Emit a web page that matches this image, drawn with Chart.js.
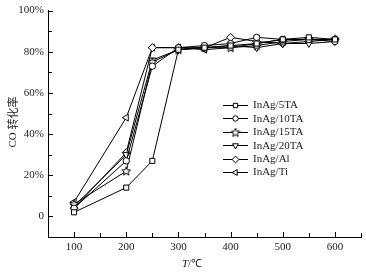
<!DOCTYPE html>
<html>
<head>
<meta charset="utf-8">
<script src="https://cdn.jsdelivr.net/npm/chart.js@4/dist/chart.umd.min.js"></script>
<style>
  html, body { margin: 0; padding: 0; background: #fff; }
  #wrap { width: 366px; height: 273px; }
</style>
</head>
<body>
<div id="wrap"><canvas id="grafico" width="366" height="273"></canvas></div>
<script>
// temperatura (°C)
const temps = [100, 200, 250, 300, 350, 400, 450, 500, 550, 600];

// conversão de CO (%)
const ta5  = [2, 14, 27, 81, 82, 83, 84, 86, 87, 86];
const ta10 = [4, 27, 73, 82, 83, 84, 87, 86, 86, 85];
const ta15 = [6, 22, 75, 81, 82, 82, 83, 85, 86, 86];
const ta20 = [5, 30, 76, 81, 82, 83, 82, 84, 84, 85];
const al   = [4, 31, 82, 82, 82, 87, 85, 84, 85, 86];
const ti   = [7, 48, 82, 82, 81, 82, 84, 86, 86, 86];

const nomes = ['InAg/5TA', 'InAg/10TA', 'InAg/15TA', 'InAg/20TA', 'InAg/Al', 'InAg/Ti'];

const yTicks = [0, 20, 40, 60, 80, 100];
const xTicks = [100, 200, 300, 400, 500, 600];

const serif = '"Liberation Serif", "Times New Roman", serif';

// estrela de 5 pontas para InAg/15TA
function criaEstrela() {
  const c = document.createElement('canvas');
  c.width = 10; c.height = 10;
  const g = c.getContext('2d');
  g.beginPath();
  for (let i = 0; i < 10; i++) {
    const r = i % 2 === 0 ? 4.5 : 2;
    const a = -Math.PI / 2 + i * Math.PI / 5;
    const px = 5 + r * Math.cos(a), py = 5.3 + r * Math.sin(a);
    if (i === 0) g.moveTo(px, py); else g.lineTo(px, py);
  }
  g.closePath();
  g.fillStyle = '#fff';
  g.fill();
  g.strokeStyle = '#000';
  g.lineWidth = 1;
  g.stroke();
  return c;
}
const estrela = criaEstrela();

function serie(vals) {
  return vals.map((v, i) => ({ x: temps[i], y: v }));
}

const estilos = [
  { pointStyle: 'rect', rotation: 0, radius: 3.6 },
  { pointStyle: 'circle', rotation: 0, radius: 3.2 },
  { pointStyle: estrela, rotation: 0, radius: 4 },
  { pointStyle: 'triangle', rotation: 180, radius: 4 },
  { pointStyle: 'rectRot', rotation: 0, radius: 4 },
  { pointStyle: 'triangle', rotation: -90, radius: 4 }
];

const valores = [ta5, ta10, ta15, ta20, al, ti];

const datasets = valores.map((vals, k) => ({
  label: nomes[k],
  data: serie(vals),
  borderColor: '#000',
  backgroundColor: '#fff',
  borderWidth: 1,
  pointStyle: estilos[k].pointStyle,
  pointRotation: estilos[k].rotation,
  pointRadius: estilos[k].radius,
  pointBorderWidth: 1,
  pointBorderColor: '#000',
  pointBackgroundColor: '#fff',
  tension: 0
}));

// ticks para dentro, títulos e legenda
const decoracao = {
  id: 'decoracao',
  afterDraw(chart) {
    const ctx = chart.ctx;
    const xs = chart.scales.x, ys = chart.scales.y;
    const a = chart.chartArea;
    ctx.save();
    ctx.strokeStyle = '#000';
    ctx.lineWidth = 1;
    ctx.beginPath();
    for (let v = -10; v <= 100; v += 10) {
      const py = Math.round(ys.getPixelForValue(v)) + 0.5;
      const len = v % 20 === 0 ? 5 : 4;
      ctx.moveTo(a.left, py); ctx.lineTo(a.left + len, py);
    }
    for (let v = 50; v <= 650; v += 50) {
      const px = Math.round(xs.getPixelForValue(v)) + 0.5;
      const len = v % 100 === 0 ? 5 : 4;
      ctx.moveTo(px, a.bottom); ctx.lineTo(px, a.bottom - len);
    }
    ctx.stroke();

    // título do eixo y
    ctx.fillStyle = '#222';
    ctx.translate(13, 122);
    ctx.rotate(-Math.PI / 2);
    ctx.textAlign = 'center';
    ctx.textBaseline = 'middle';
    ctx.font = '11px ' + serif;
    const t1 = 'CO ';
    ctx.font = '11px "Noto Sans CJK SC"';
    const w2 = ctx.measureText('转化率').width;
    ctx.font = '11px ' + serif;
    const w1 = ctx.measureText(t1).width;
    const x0 = -(w1 + w2) / 2;
    ctx.textAlign = 'left';
    ctx.fillText(t1, x0, 0);
    ctx.font = '11px "Noto Sans CJK SC"';
    ctx.fillText('转化率', x0 + w1, 0);
    ctx.setTransform(1, 0, 0, 1, 0, 0);

    // título do eixo x
    ctx.textBaseline = 'middle';
    ctx.textAlign = 'left';
    ctx.font = 'italic 11px ' + serif;
    const wt = ctx.measureText('T').width;
    ctx.font = '11px ' + serif;
    const wr = ctx.measureText('/℃').width;
    const xt = 192 - (wt + wr) / 2;
    ctx.font = 'italic 11px ' + serif;
    ctx.fillText('T', xt, 264);
    ctx.font = '11px ' + serif;
    ctx.fillText('/℃', xt + wt, 264);

    // legenda
    ctx.font = '11px ' + serif;
    ctx.textBaseline = 'middle';
    chart.data.datasets.forEach((ds, k) => {
      const ly = 105 + k * 13.4;
      ctx.strokeStyle = '#000';
      ctx.lineWidth = 1;
      ctx.beginPath();
      ctx.moveTo(223, Math.round(ly) + 0.5);
      ctx.lineTo(248, Math.round(ly) + 0.5);
      ctx.stroke();
      ctx.fillStyle = '#fff';
      ctx.strokeStyle = '#000';
      Chart.helpers.drawPoint(ctx, {
        pointStyle: ds.pointStyle,
        rotation: ds.pointRotation,
        radius: ds.pointRadius * 0.85,
        borderWidth: 1
      }, 235.5, Math.round(ly) + 0.5);
      ctx.fillStyle = '#222';
      ctx.fillText(ds.label, 253, ly + 0.5);
    });
    ctx.restore();
  }
};

new Chart(document.getElementById('grafico').getContext('2d'), {
  type: 'line',
  data: { datasets },
  options: {
    responsive: false,
    animation: false,
    layout: { padding: { top: 5, right: 5, left: 0, bottom: 0 } },
    plugins: { legend: { display: false }, tooltip: { enabled: false } },
    scales: {
      x: {
        type: 'linear',
        min: 50,
        max: 650,
        afterFit(s) { s.height = 36; },
        grid: { display: false, drawTicks: false },
        border: { display: true, color: '#000', width: 1 },
        ticks: {
          stepSize: 50,
          padding: 4,
          autoSkip: false,
          maxRotation: 0,
          color: '#222',
          font: { family: serif, size: 11 },
          callback: v => xTicks.includes(v) ? String(v) : ''
        }
      },
      y: {
        min: -10,
        max: 100,
        afterFit(s) { s.width = 48; },
        grid: { display: false, drawTicks: false },
        border: { display: true, color: '#000', width: 1 },
        ticks: {
          stepSize: 10,
          padding: 4,
          autoSkip: false,
          color: '#222',
          font: { family: serif, size: 11 },
          callback: v => yTicks.includes(v) ? (v === 0 ? '0' : v + '%') : ''
        }
      }
    }
  },
  plugins: [decoracao]
});
</script>
</body>
</html>
